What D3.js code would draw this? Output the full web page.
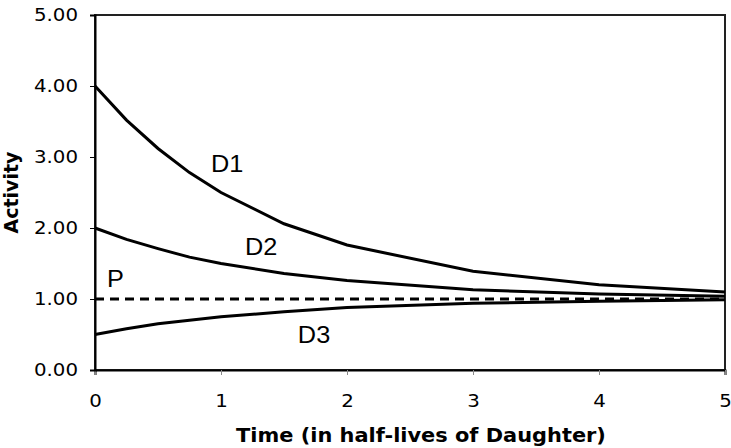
<!DOCTYPE html>
<html>
<head>
<meta charset="utf-8">
<script src="https://d3js.org/d3.v7.min.js"></script>
<style>
  body { margin: 0; background: #fff; }
  .tick text { font-family: "DejaVu Sans", Verdana, sans-serif; font-size: 18px; fill: #000; }
</style>
</head>
<body>
<div id="chart"></div>
<script>
// data
var times = [0, 0.25, 0.5, 0.75, 1, 1.5, 2, 3, 4, 5];
var daughter1 = [4.00, 3.52, 3.12, 2.78, 2.50, 2.06, 1.76, 1.39, 1.20, 1.10];
var daughter2 = [2.00, 1.84, 1.71, 1.59, 1.50, 1.36, 1.26, 1.13, 1.07, 1.04];
var daughter3 = [0.50, 0.58, 0.65, 0.70, 0.75, 0.82, 0.88, 0.94, 0.97, 0.99];
var parent    = [1.00, 1.00, 1.00, 1.00, 1.00, 1.00, 1.00, 1.00, 1.00, 1.00];
var xTicks = [0, 1, 2, 3, 4, 5];
var yTicks = [0, 1, 2, 3, 4, 5];
var labels = [
  {name: "D1", t: 0.92, v: 2.79},
  {name: "D2", t: 1.19, v: 1.62},
  {name: "P",  t: 0.095, v: 1.17},
  {name: "D3", t: 1.61, v: 0.38}
];

// set the dimensions and margins of the graph
var margin = {top: 15, right: 6, bottom: 78, left: 95},
    width = 731 - margin.left - margin.right,
    height = 448 - margin.top - margin.bottom;

// the original picture is a bit wider than tall, so text is stretched a little
var stretch = 1.1;
function widen(sel) {
  sel.each(function() {
    var w = this.getComputedTextLength();
    d3.select(this)
      .attr("textLength", w * stretch)
      .attr("lengthAdjust", "spacingAndGlyphs");
  });
}

var svg = d3.select("#chart")
  .append("svg")
    .attr("width", 731)
    .attr("height", 448)
  .append("g")
    .attr("transform", "translate(" + margin.left + "," + margin.top + ")");

var x = d3.scaleLinear().domain([0, 5]).range([0, width]);
var y = d3.scaleLinear().domain([0, 5]).range([height, 0]);

// frame
svg.append("rect")
  .attr("width", width)
  .attr("height", height)
  .attr("fill", "none")
  .attr("stroke", "#222")
  .attr("stroke-width", 2);

// x axis
var xAxis = svg.append("g")
  .attr("transform", "translate(0," + height + ")")
  .call(d3.axisBottom(x).tickValues(xTicks).tickFormat(d3.format("d")).tickSize(5).tickPadding(19));
xAxis.select(".domain").attr("stroke-width", 2);
xAxis.selectAll(".tick line").attr("stroke", "#888");
xAxis.selectAll(".tick text").call(widen);

// y axis
var yAxis = svg.append("g")
  .call(d3.axisLeft(y).tickValues(yTicks).tickFormat(d3.format(".2f")).tickSize(5).tickPadding(12));
yAxis.select(".domain").attr("stroke-width", 2);
yAxis.selectAll(".tick line").attr("stroke", "#000");
yAxis.selectAll(".tick text").call(widen);

// axis titles
svg.append("text")
  .attr("x", width / 2 + 11)
  .attr("y", height + 72)
  .attr("text-anchor", "middle")
  .style("font-family", "DejaVu Sans, Verdana, sans-serif")
  .style("font-weight", "bold")
  .style("font-size", "19px")
  .text("Time (in half-lives of Daughter)")
  .call(widen);

svg.append("text")
  .attr("transform", "translate(" + (-77) + "," + (height / 2) + ") rotate(-90)")
  .attr("text-anchor", "middle")
  .style("font-family", "DejaVu Sans, Verdana, sans-serif")
  .style("font-weight", "bold")
  .style("font-size", "19px")
  .text("Activity");

// lines
var line = d3.line()
  .x(function(d, i) { return x(times[i]); })
  .y(function(d) { return y(d); });

[daughter1, daughter2, daughter3].forEach(function(s) {
  svg.append("path")
    .datum(s)
    .attr("d", line)
    .attr("fill", "none")
    .attr("stroke", "#000")
    .attr("stroke-width", 3);
});

svg.append("path")
  .datum(parent)
  .attr("d", line)
  .attr("fill", "none")
  .attr("stroke", "#000")
  .attr("stroke-width", 3)
  .attr("stroke-dasharray", "9,6");

// curve labels
svg.selectAll(".lbl")
  .data(labels)
  .enter()
  .append("text")
    .attr("x", function(d) { return x(d.t); })
    .attr("y", function(d) { return y(d.v); })
    .style("font-family", "Liberation Sans, Arial, sans-serif")
    .style("font-size", "23px")
    .text(function(d) { return d.name; })
    .call(widen);
</script>
</body>
</html>
